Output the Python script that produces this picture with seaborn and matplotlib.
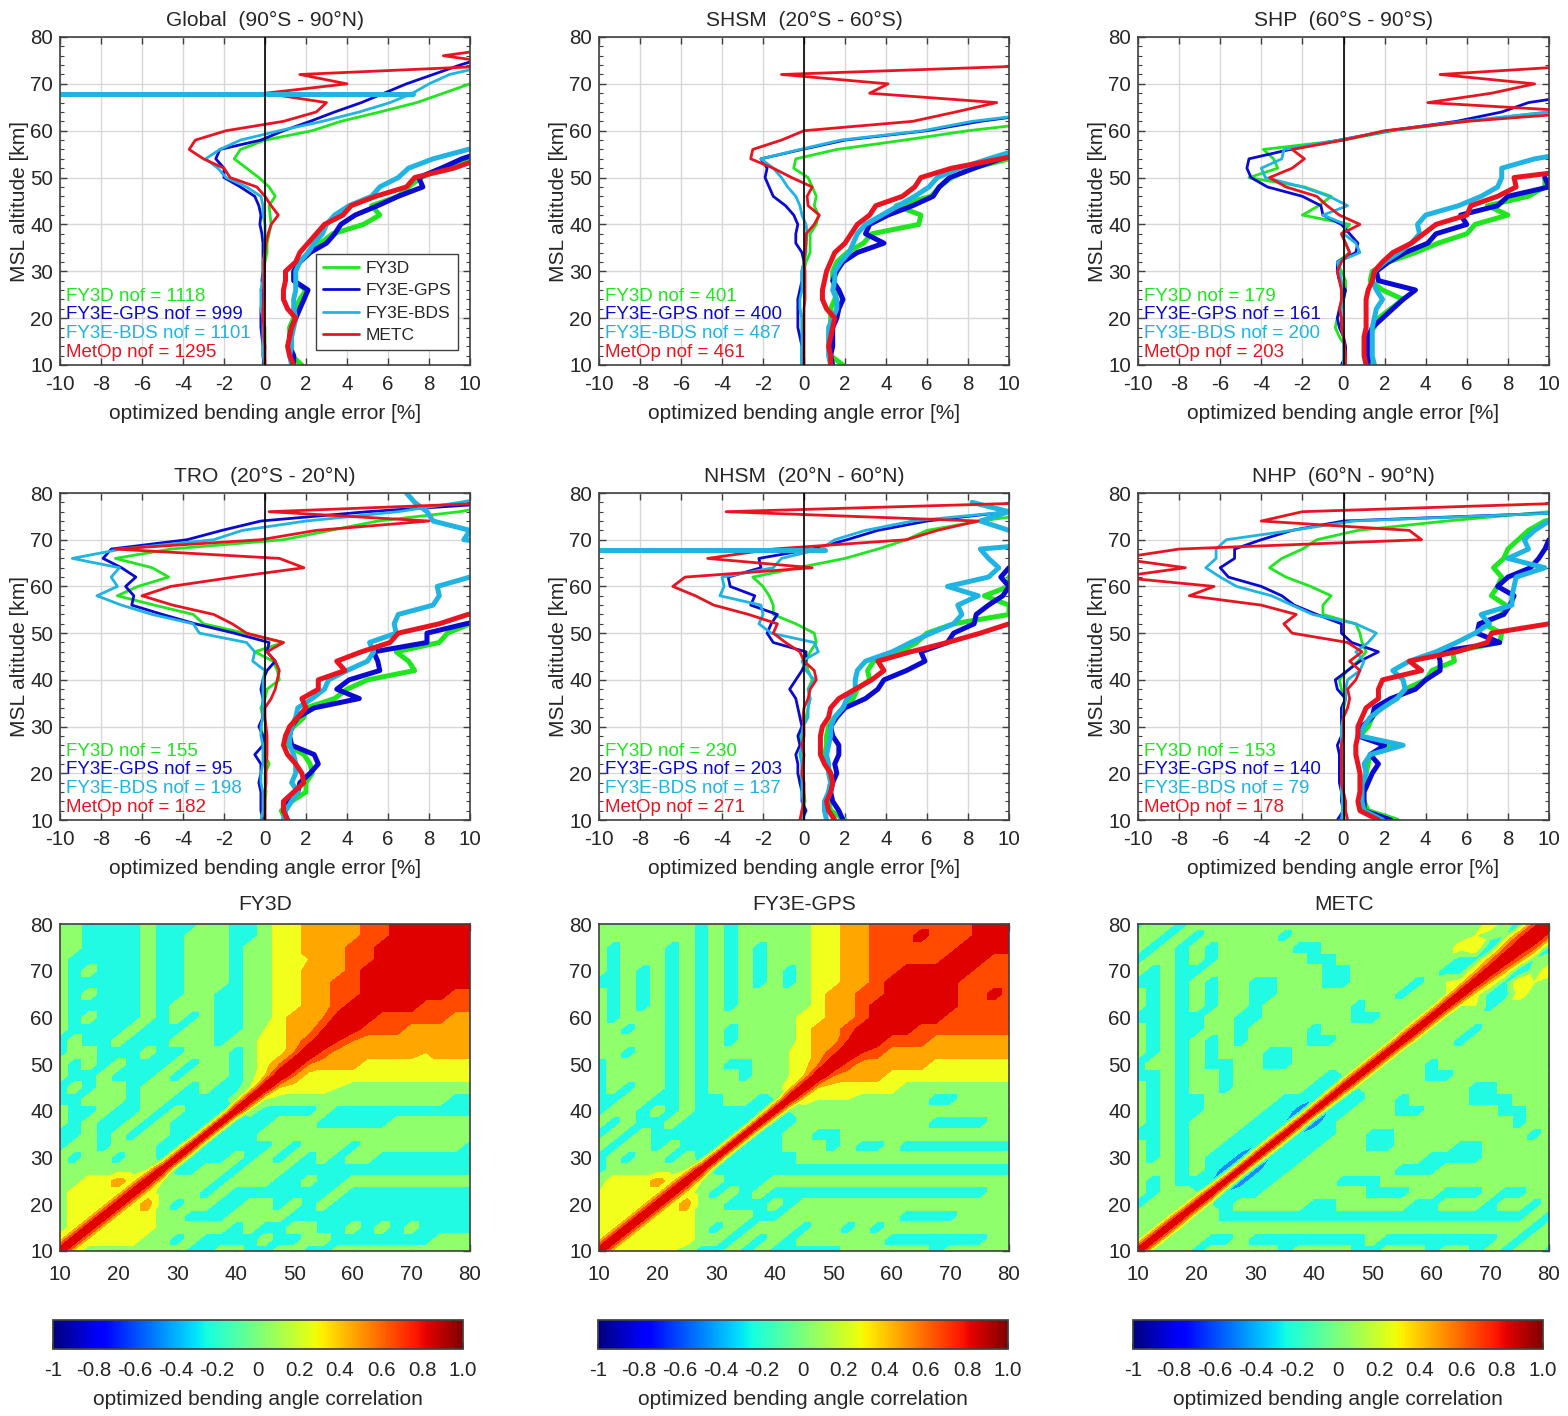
import matplotlib

matplotlib.use("Agg")

import matplotlib.pyplot as plt
import matplotlib.tri as mtri
import numpy as np
import seaborn as sns
from matplotlib.cm import ScalarMappable
from matplotlib.colors import Normalize
from matplotlib.ticker import MultipleLocator

# altitude grid of the profiles, 2 km steps. Lists stop where a profile stops.
ALT = np.arange(10, 81, 2)
CORR_ALT = np.arange(10, 80.1, 2.5)

MISSIONS = ["FY3D", "FY3E-GPS", "FY3E-BDS", "METC"]
COLORS = ["#1fe61f", "#0a0ad2", "#1fb4e2", "#ea1420"]
NOF_NAMES = ["FY3D", "FY3E-GPS", "FY3E-BDS", "MetOp"]
TITLES = ["Global  (90°S - 90°N)", "SHSM  (20°S - 60°S)", "SHP  (60°S - 90°S)",
          "TRO  (20°S - 20°N)", "NHSM  (20°N - 60°N)", "NHP  (60°N - 90°N)"]
NOF = [[1118, 999, 1101, 1295], [401, 400, 487, 461], [179, 161, 200, 203],
       [155, 95, 198, 182], [230, 203, 137, 271], [153, 140, 79, 178]]

# thin lines: mean error, thick lines: standard deviation
GLOBAL_FY3D = [-.1,-.05,0,0,0,  -.1,-.1,-.1,-.2,-.1,  -.05,0,.1,.1,.2,  .3,.25,.2,.5,.2,  -.3,-.9,-1.5,-1.2,0,  2.3,3.7,5.6,7.4,8.7,  10,12]
GLOBAL_GPS = [-.05,-.1,-.1,-.15,-.2,  -.2,-.2,-.1,-.1,-.15,  -.1,-.1,-.1,-.1,-.15,  -.25,-.2,-.3,-.5,-1.2,  -2,-2,-2.4,-2.2,-.2,  .9,2.2,3.4,4.7,5.8,  6.9,8.2,9.5,11]
GLOBAL_BDS = [0,-.1,-.1,-.1,-.1,  -.1,-.2,-.2,-.2,-.1,  -.1,-.1,0,0,0,  0,-.1,-.1,-.2,-.9,  -1.9,-2.3,-2.9,-2.2,-1.2,  .7,2.8,4.6,6.1,7.2,  8,9,11]
GLOBAL_METC = [0,0,0,-.05,-.05,  -.1,-.1,-.05,-.05,-.05,  -.05,-.05,0,.05,.15,  .3,.65,.3,0,-.4,  -1.7,-2,-3,-3.7,-3.4,  -1.9,.9,2.5,3,0,  4,1.7,12,8.7,12]
GLOBAL_FY3D_STD = [1.8,1.3,1.2,1.2,1.2,  1.4,1.5,1.7,2.0,1.4,  1.4,1.7,2.2,2.7,3.3,  4.8,5.6,5.2,6.5,7.0,  7.6,8.6,10,12]
GLOBAL_GPS_STD = [1.4,1.4,1.2,1.2,1.3,  1.5,1.7,1.9,2.1,1.4,  1.4,1.7,2.2,3.0,3.4,  3.7,4.4,5.5,6.5,7.7,  7.5,8.6,9.6,11]
GLOBAL_BDS_STD = [1.3,1.2,1.3,1.3,1.4,  1.5,1.4,1.4,1.5,1.5,  1.5,1.7,2.1,2.4,2.8,  3.0,3.4,4.1,5.2,5.6,  6.5,7.0,8.2,9.9,12]
GLOBAL_METC_STD = [1.4,1.2,1.1,1.2,1.3,  1.5,1.1,.9,.9,1.0,  1.0,1.5,1.7,2.1,2.5,  2.9,3.8,4.2,5.4,6.9,  7.3,9.2,10.5]

SHSM_FY3D = [-.1,-.1,-.1,-.1,-.1,  -.1,-.2,-.3,-.1,-.05,  0,.1,.3,.3,.3,  .6,.7,.5,.6,.4,  .2,-.5,-.4,1.6,4.9,  8,12]
SHSM_GPS = [-.1,-.1,-.1,-.2,-.3,  -.3,-.3,-.3,-.2,-.1,  -.1,0,-.1,-.4,-.4,  -.3,-.5,-.9,-1.5,-1.7,  -1.9,-1.8,-2.1,-.1,2,  6,8.6,12]
SHSM_BDS = [-.1,-.1,-.1,-.1,-.1,  -.1,-.2,-.2,-.1,-.1,  -.1,0,.1,.1,.15,  .1,-.1,-.2,-.4,-.8,  -1.1,-1.5,-2.1,-.2,1.8,  5.8,8.2,12]
SHSM_METC = [0,0,0,0,0,  0,0,.05,.05,.05,  .05,0,.05,.1,.1,  .5,.75,.2,.15,.4,  -.6,-1.5,-2.6,-2.5,-1.1,  0,5.3,7.4,9.4,3.2,  4.1,-1.1,12]
SHSM_FY3D_STD = [1.9,1.3,1.3,1.2,1.3,  1.3,1.3,1.5,1.6,1.4,  1.4,1.6,2.1,2.9,3.3,  5.6,5.7,4.5,6.2,6.6,  7.2,8.2,10,12]
SHSM_GPS_STD = [1.4,1.3,1.4,1.4,1.4,  1.6,1.7,1.9,1.7,1.4,  1.6,1.9,2.6,3.9,3.0,  3.2,4.1,5.3,6.3,6.6,  7.1,8.3,9.6,11]
SHSM_BDS_STD = [1.3,1.2,1.2,1.2,1.2,  1.4,1.6,1.6,1.4,1.5,  1.5,1.8,2.2,2.4,2.6,  3.0,3.8,4.6,5.4,6.1,  6.5,7.6,9.0,10.5]
SHSM_METC_STD = [1.3,1.3,1.2,1.3,1.4,  1.5,1.1,.9,.9,1.0,  1.1,1.3,1.5,2.0,2.3,  2.6,3.2,3.5,4.8,5.4,  5.7,7.2,9.6,12]

SHP_FY3D = [0,.1,.1,-.2,-.4,  -.3,-.1,0,.1,.1,  -.1,-.3,.3,.1,-.1,  .3,-2,-1.2,-.6,-1.9,  -4.6,-3.2,-3.4,-3.9,0,  2.4,6,10,12]
SHP_GPS = [-.1,.1,.1,0,-.2,  -.3,-.2,0,.1,-.2,  -.3,-.3,.6,.7,.3,  -.1,-1,-1.1,-2,-3.7,  -4.5,-4.7,-4.6,-2.6,-.2,  2.2,5.5,7.7,9,12]
SHP_BDS = [0,0,0,0,-.1,  -.1,-.1,0,0,-.1,  -.2,-.3,.8,.6,0,  .1,-1,.2,-.7,-2,  -3.8,-4,-3,-2.9,-.2,  2.2,5.8,10,12]
SHP_METC = [.1,.1,.05,0,-.1,  -.1,-.2,-.1,-.1,-.2,  -.3,-.1,.3,.1,-.1,  .8,-.2,-.8,-1.3,-2.8,  -3.6,-2.5,-1.9,-2.5,0,  2,6,12,4.1,7.2,  9.3,4.7,12]
SHP_FY3D_STD = [1.5,1.3,1.2,1.1,1.5,  1.7,2.3,2.9,1.9,1.3,  1.4,2.2,3.5,4.6,6,  6.4,8,7,9,9.8,  9.8]
SHP_GPS_STD = [1.2,1.2,1.2,1.2,1.4,  1.9,2.4,2.9,3.5,1.7,  1.6,2.2,3.0,4.1,4.5,  6,5.7,7.5,8,10,  9.8]
SHP_BDS_STD = [1.5,1.4,1.4,1.4,1.4,  1.5,1.6,1.9,1.6,1.4,  1.5,2.0,2.7,3.3,3.7,  3.6,4.0,5.6,6.7,7.5,  7.7,7.7,9.3,12]
SHP_METC_STD = [1.1,1.0,1.0,1.0,1.1,  1.1,1.1,1.1,1.2,1.4,  1.5,1.9,2.4,3.3,3.9,  4.5,6,6.2,7.5,8.4,  8.3,12]

TRO_FY3D = [-.1,0,0,.05,0,  0,.2,0,-.1,-.1,  -.2,-.1,-.2,0,.1,  .7,.6,.4,-.5,.9,  -1,-3,-3.5,-5.4,-7.2,  -6.2,-4.7,-5.5,-7.3,-4.6,  .9,3.2,5.5,9.5,12]
TRO_GPS = [-.1,-.2,-.2,-.2,-.3,  -.2,-.2,-.5,-.1,-.1,  -.3,-.1,-.1,-.1,-.2,  -.1,.1,.5,.1,.2,  -1.5,-3.4,-5,-6.5,-6.4,  -6.8,-6.3,-7,-7.9,-7.5,  -3.8,-2.1,-.2,5,12]
TRO_BDS = [-.2,-.1,-.1,-.1,-.2,  -.2,-.1,-.1,-.1,-.2,  -.2,-.1,-.1,-.1,-.1,  -.1,0,-.6,-.5,-.9,  -3.2,-3.5,-5.5,-7,-8.2,  -7.2,-7.5,-7.1,-9.4,-7,  -2.5,-1.1,2,6.5,9.5,  12]
TRO_METC = [0,0,0,0,.05,  .05,.05,.1,.1,.1,  .05,0,0,.3,.5,  .6,.7,.5,.1,.9,  -.9,-1.6,-2.5,-4.5,-6,  -4.6,-1.5,1.9,.7,-7.3,  -.2,2.5,8,.2,12]
TRO_FY3D_STD = [1.0,.8,1.3,2.0,2.0,  2.3,2.2,1.9,1.1,1.0,  1.4,1.9,2.0,3.4,4,  5,7.3,7.0,6.4,8.5,  8.9,10,12]
TRO_GPS_STD = [1.1,.9,1.1,1.6,1.7,  2.2,2.6,2.4,1.3,1.2,  1.3,1.6,2.4,4.6,3.5,  4.1,5.6,5.5,5.3,7.9,  7.9,9.8,12]
TRO_BDS_STD = [.9,1.0,1.3,1.6,1.3,  1.5,1.5,1.4,1.2,1.2,  1.3,1.5,1.6,2.3,2.9,  3.1,4,5,5.3,5.1,  6.4,6.3,6.5,8.2,8.5,  8.4,10,14,14,14,  9.7,10,8.2,7.9,7.3,  6.9]
TRO_METC_STD = [1.1,.9,.9,1.4,1.9,  1.8,1.5,1.1,.9,1.0,  1.2,1.6,2.0,1.8,2.6,  2.6,3.9,3.5,4.7,6.1,  6.5,8.5,9.9,12]

NHSM_FY3D = [-.1,-.05,.05,0,-.2,  -.1,-.1,-.1,-.1,-.2,  -.1,.1,.2,.3,.2,  .4,.2,.1,.3,.6,  .5,-.4,-1.5,-1.5,-1.7,  -2,-2.5,-.3,2,3.6,  5,6,8.6,12]
NHSM_GPS = [-.1,.1,-.1,-.1,-.2,  -.3,-.3,-.4,-.2,-.3,  -.1,-.2,-.3,-.4,-.7,  -.4,-.1,.1,.1,-1.5,  -1.8,-1.6,-1.3,-2.6,-2.4,  -3.6,-3.7,-2.1,-2.2,.4,  2.1,3.6,6,10,12]
NHSM_BDS = [-.1,-.1,-.05,-.1,-.1,  -.1,-.1,-.2,-.1,-.1,  -.05,.2,.2,.3,.2,  .5,.1,-.1,.7,.5,  -1.6,-2.2,-2,-2.1,-4.1,  -3.9,-4,-1.5,-1.1,.8,  1.5,3,5.3,10,12]
NHSM_METC = [-.2,-.1,0,0,0,  -.1,-.05,0,-.1,0,  0,-.05,0,.2,.3,  .6,.5,0,-.2,-.9,  -1.5,-1.3,-2.7,-4.4,-5.3,  -6.4,-5.8,.4,-4.7,-1.5,  5,6.5,8.5,-3.8,12]
NHSM_FY3D_STD = [2,1.3,1.2,1.2,1.3,  1.3,1.1,1.0,1.1,1.1,  1.2,1.5,1.9,2.4,2.6,  3.2,3.1,3.4,4.7,5.5,  6,7.3,10,10,8.8,  10,10,12]
NHSM_GPS_STD = [1.9,1.7,1.4,1.3,1.4,  1.6,1.5,1.7,1.7,1.4,  1.3,1.6,2.0,3,3.6,  3.9,5,5.9,5.7,7,  7.3,8.3,8.4,9,9.7,  10,9.6,10,14]
NHSM_BDS_STD = [1.1,1.0,1.0,1.2,1.3,  1.2,1.2,1.1,1.2,1.3,  1.3,1.5,1.9,2.1,2.5,  2.5,2.6,3.0,4.3,5.2,  6.2,7.3,7.7,7.5,8.5,  7,9,9.5,9,8.6,  14,10,8.6,10,8.2]
NHSM_METC_STD = [1.5,1.2,1.1,1.3,1.4,  1.3,1.0,.8,.8,.8,  .9,1.2,1.3,1.7,2.5,  3.3,3.9,3.6,5.2,7,  8.6,10,12]

NHP_FY3D = [-.1,-.05,0,-.1,-.1,  -.2,-.1,-.2,-.1,-.1,  -.1,0,0,.1,-.1,  -.2,.2,.7,1.1,.9,  .8,.6,-1,-1,-.6,  -1.6,-2.8,-3.6,-3,-2,  -1.3,.7,5,10,12]
NHP_GPS = [-.3,0,-.1,-.1,-.2,  -.2,-.2,-.2,-.3,-.1,  -.1,-.1,-.1,.1,-.3,  -.4,.2,.8,1.7,.4,  -.1,-.1,-1.3,-2.4,-3,  -4,-5.6,-6,-5.3,-5.3,  -4,-2.5,0,12]
NHP_BDS = [-.1,-.05,-.05,-.1,-.1,  -.1,-.1,-.1,-.1,-.1,  -.1,0,0,.1,.1,  .2,.8,1,.6,1.2,  1.6,.6,-1.5,-2.5,-3.5,  -5.2,-6,-6.7,-6.2,-6.2,  -5.7,-2.5,.5,12]
NHP_METC = [.2,.1,.1,0,-.1,  -.1,-.1,-.1,-.1,0,  0,0,.2,.3,.2,  .6,.8,.3,.9,.2,  -2.5,-2.9,-2.3,-4,-7.5,  -6.3,-11,-7.7,-11,-8,  3.8,3.2,-4,-2,12]
NHP_FY3D_STD = [2.6,1.2,1,.9,1,  1.1,1.2,1.3,2.4,.8,  1.2,1.4,1.8,2.6,3,  4,4.3,5.4,5.3,7.6,  7.7,6.8,7.7,7.9,7.2,  7.5,7.7,7.3,7.8,8,  8.5,9,9.8,12]
NHP_GPS_STD = [2.3,1.0,1,1,1.2,  1.4,1.7,1.3,2.0,.7,  .9,1.4,1.5,2.3,3.5,  4,4.7,4.7,4.6,7.6,  6.5,6.6,7.8,8.1,8.3,  7.5,8,9.1,9.5,9.8,  10,12]
NHP_BDS_STD = [1.9,1.0,.9,.9,.9,  1.1,1,1.3,2.9,.8,  1,1.3,1.9,2.6,3.0,  2.9,2.4,3.2,4.5,5.5,  6.4,7.1,6.7,8.2,8.2,  8.3,8.4,9.8,8,9,  8.8,9.3,10,12]
NHP_METC_STD = [1.7,.8,.7,.8,.8,  .8,.7,.6,.6,.7,  .7,.9,1.1,1.7,1.7,  1.9,3.8,3.2,5.5,7,  7.2,10,12]

BIAS = [[GLOBAL_FY3D, GLOBAL_GPS, GLOBAL_BDS, GLOBAL_METC], [SHSM_FY3D, SHSM_GPS, SHSM_BDS, SHSM_METC],
        [SHP_FY3D, SHP_GPS, SHP_BDS, SHP_METC], [TRO_FY3D, TRO_GPS, TRO_BDS, TRO_METC],
        [NHSM_FY3D, NHSM_GPS, NHSM_BDS, NHSM_METC], [NHP_FY3D, NHP_GPS, NHP_BDS, NHP_METC]]
STD = [[GLOBAL_FY3D_STD, GLOBAL_GPS_STD, GLOBAL_BDS_STD, GLOBAL_METC_STD],
       [SHSM_FY3D_STD, SHSM_GPS_STD, SHSM_BDS_STD, SHSM_METC_STD],
       [SHP_FY3D_STD, SHP_GPS_STD, SHP_BDS_STD, SHP_METC_STD],
       [TRO_FY3D_STD, TRO_GPS_STD, TRO_BDS_STD, TRO_METC_STD],
       [NHSM_FY3D_STD, NHSM_GPS_STD, NHSM_BDS_STD, NHSM_METC_STD],
       [NHP_FY3D_STD, NHP_GPS_STD, NHP_BDS_STD, NHP_METC_STD]]

# the BDS glitch at 67.8 km that runs off the left edge, panels 0 and 4
GLITCH_ALT = [67.8, 67.8]
GLITCH_X = {0: [-10, 7.2], 4: [-10, 1.0]}

# lower triangle of each correlation matrix in tenths, one row per altitude
FY3D_CORR = [
    [10],
    [2,10],
    [0,2,10],
    [0,2,2,10],
    [0,2,2,2,10],
    [0,2,2,2,2,10],
    [0,0,2,2,4,2,10],
    [0,0,0,0,0,0,1,10],
    [0,-2,0,0,-2,0,0,-2,10],
    [-2,0,0,-2,0,0,0,-2,-2,10],
    [-2,-2,0,-2,0,-2,0,0,-2,-3,10],
    [0,-2,0,-2,-2,0,-2,0,-2,-2,-3,10],
    [0,-2,-2,0,-2,-2,0,-2,0,-2,-2,-3,10],
    [-2,-2,0,0,0,-2,0,0,-2,-2,-2,-2,0,10],
    [-2,0,-2,0,0,-2,0,0,0,-2,0,-2,-2,1,10],
    [0,-2,-2,0,-2,-2,-2,0,-2,0,0,0,-2,0,3,10],
    [0,-2,0,-2,0,-2,-2,-2,0,-2,0,0,-2,0,2,5,10],
    [-2,0,0,-2,-2,-2,0,-2,-2,0,0,0,-2,0,2,2,5,10],
    [-2,0,-2,-2,0,-2,-2,-2,0,0,0,-2,0,0,2,2,4,6,10],
    [0,-2,-2,-2,-2,0,-2,-2,-2,0,0,-2,-2,0,1,2,4,4,7,10],
    [0,-2,0,-2,-2,-2,0,-2,0,-2,0,-2,-2,0,0,2,4,4,5,8,10],
    [0,-2,-2,-2,-2,-2,0,-2,0,0,0,-2,-2,0,0,2,2,4,4,6,8,10],
    [0,-2,0,-2,-2,-2,0,-2,-2,0,0,-2,-2,0,0,2,2,4,4,6,6,8,10],
    [0,-2,-2,-2,-2,-2,0,-2,-2,0,0,0,-2,0,0,2,2,4,4,6,6,8,8,10],
    [0,-2,0,-2,-2,-2,0,-2,-2,0,0,0,-2,0,0,2,2,4,4,4,6,8,8,8,10],
    [0,-2,-2,-2,-2,-2,0,-2,-2,0,0,0,-2,0,0,2,2,3,4,4,6,6,8,8,9,10],
    [0,0,-2,-2,-2,-2,0,-2,-2,0,0,0,-2,0,0,2,2,4,4,4,6,6,8,8,8,8,10],
    [0,0,-2,-2,-2,-2,0,-2,-2,0,0,0,-2,-2,0,2,2,4,4,4,4,6,6,8,8,8,8,10],
    [0,0,-2,-2,-2,-2,0,-2,-2,-2,0,0,-2,-2,0,2,2,4,4,4,4,6,6,8,8,8,8,8,10],
]
GPS_CORR = [
    [10],
    [2,10],
    [2,2,10],
    [1,2,2,10],
    [2,2,2,2,10],
    [1,2,2,2,2,10],
    [0,2,2,2,4,2,10],
    [-2,0,0,0,0,0,1,10],
    [-2,0,-2,0,0,-2,0,-2,10],
    [0,-2,0,0,-2,0,-2,-2,-3,10],
    [-2,0,-2,0,-2,-2,-2,-2,-2,-3,10],
    [0,-2,0,-2,-2,0,-2,-2,-2,-2,-3,10],
    [-2,0,0,-2,0,-2,0,-2,-2,-2,-2,-2,10],
    [-2,-2,0,0,-2,-2,0,-2,-2,0,0,-2,-1,10],
    [-2,0,-2,0,0,-2,0,-2,0,0,0,0,0,2,10],
    [-2,0,0,0,0,-2,0,-2,0,0,-2,0,0,1,3,10],
    [-2,0,0,0,0,-2,0,-2,0,-2,-2,0,0,1,2,5,10],
    [0,0,-2,0,0,-2,0,-2,0,0,0,0,0,1,2,4,6,10],
    [0,0,0,0,0,-2,0,-2,0,-2,0,0,0,0,2,4,4,7,10],
    [0,0,-2,0,0,-2,0,-2,0,-2,0,0,0,0,2,4,4,6,8,10],
    [0,-2,0,0,0,-2,0,-2,0,0,0,0,0,0,2,2,4,4,6,8,10],
    [0,-2,0,-2,0,-2,0,-2,0,-2,0,0,0,0,0,2,4,4,6,8,8,10],
    [0,-2,0,-2,0,-2,0,-2,0,-2,0,0,0,0,0,2,4,4,6,6,8,8,10],
    [-2,-2,0,-2,0,-2,0,-2,0,-2,0,-2,0,-2,0,2,2,4,4,6,8,8,8,10],
    [0,-2,0,-2,0,-2,0,-2,0,-2,0,-2,0,-2,0,2,2,4,4,6,6,8,8,8,10],
    [0,-2,0,0,0,-2,0,-2,0,-2,0,-2,0,0,0,2,2,4,4,6,6,6,6,6,8,10],
    [0,-2,0,0,0,-2,0,-2,0,-2,0,-2,0,0,0,2,2,4,4,6,6,6,6,6,6,8,10],
    [0,0,0,0,0,0,0,-2,0,-2,0,0,0,0,0,2,2,4,4,6,6,6,8,6,6,6,8,10],
    [0,0,0,0,0,0,0,-2,0,-2,0,0,0,0,0,2,2,4,4,6,6,6,6,6,6,6,8,8,10],
]
METC_CORR = [
    [10],
    [0,10],
    [0,0,10],
    [0,0,0,10],
    [-2,0,0,-1,10],
    [0,-2,0,0,-1,10],
    [0,-2,0,-2,-2,-3,10],
    [0,0,0,-2,0,-2,-4,10],
    [0,-2,0,-2,0,-2,-2,-4,10],
    [0,-2,0,-2,0,0,-2,-2,-3,10],
    [-2,-2,0,-2,0,0,0,-2,-2,-3,10],
    [0,-2,0,-2,0,0,0,0,-2,-2,-3,10],
    [0,-2,0,-2,-2,0,0,0,0,-2,-2,-4,10],
    [0,-2,0,-2,-2,0,0,0,0,0,-2,-2,-3,10],
    [0,-2,0,-2,0,0,-2,0,0,0,0,0,-2,-2,10],
    [-2,-2,0,-2,0,0,-2,0,0,0,0,0,0,-2,-1,10],
    [-2,0,0,-2,0,-2,-2,0,0,-2,-2,0,0,0,0,-1,10],
    [0,-2,0,-2,0,-2,0,0,0,-2,-2,0,0,0,0,0,-1,10],
    [0,-2,0,-2,0,-2,0,-2,0,0,0,0,-2,-2,0,0,0,-1,10],
    [0,-2,0,-2,-2,0,0,-2,0,0,0,0,-2,0,0,0,0,0,0,10],
    [-2,-2,0,-2,-2,0,0,-2,-2,0,0,0,0,0,0,-2,-2,0,0,0,10],
    [0,-2,0,-2,0,-2,0,0,-2,0,0,0,0,0,0,-2,0,0,0,0,0,10],
    [0,-2,0,-2,0,-2,0,0,-2,-2,0,0,0,0,0,0,0,0,-2,0,0,1,10],
    [-2,-2,0,-2,0,-2,0,0,-2,-2,0,0,0,-2,-2,0,0,0,0,-2,0,1,2,10],
    [0,-2,0,-2,-2,0,0,0,0,0,0,0,0,-2,-2,0,0,0,0,0,0,-2,-2,3,10],
    [-2,0,0,-2,0,-2,0,0,0,0,0,0,-2,-2,0,0,0,0,0,0,0,0,-2,-2,4,10],
    [0,-2,0,-2,0,-2,0,0,0,0,0,-2,-2,0,0,0,0,0,0,0,0,0,2,3,-3,5,10],
    [0,0,-2,0,-2,0,0,0,0,0,-2,0,0,0,0,0,0,0,0,0,0,0,0,1,0,-1,6,10],
    [-2,0,0,-2,0,0,0,0,0,0,0,0,0,0,0,0,0,0,0,0,0,0,0,0,2,0,-2,6,10],
]
CORR_TITLES = ["FY3D", "FY3E-GPS", "METC"]
CORR_ROWS = [FY3D_CORR, GPS_CORR, METC_CORR]
BAND_LEVELS = [-1.1, -0.3, -0.1, 0.1, 0.3, 0.5, 0.7, 1.1]
BAND_COLORS = ["#1a8cff", "#22fbe4", "#90ff6c", "#f2ff1c", "#ffa600", "#ff4a00", "#e00000"]
CBAR_TICKS = [-1, -0.8, -0.6, -0.4, -0.2, 0, 0.2, 0.4, 0.6, 0.8, 1.0]
CBAR_LABELS = ["-1", "-0.8", "-0.6", "-0.4", "-0.2", "0", "0.2", "0.4", "0.6", "0.8", "1.0"]

W, H = 1568, 1416
TEXT = "#262626"
EDGE = "#404040"

sns.set_theme(style="ticks")
plt.rcParams["font.family"] = ["Liberation Sans", "DejaVu Sans"]
plt.rcParams["axes.unicode_minus"] = False
plt.rcParams["axes.edgecolor"] = EDGE
plt.rcParams["text.color"] = TEXT
plt.rcParams["axes.labelcolor"] = TEXT
plt.rcParams["xtick.color"] = EDGE
plt.rcParams["ytick.color"] = EDGE
plt.rcParams["xtick.labelcolor"] = TEXT
plt.rcParams["ytick.labelcolor"] = TEXT


def px_axes(fig, left, top, right, bottom):
    return fig.add_axes([left / W, 1 - bottom / H, (right - left) / W, (bottom - top) / H])


def style_axes(axis):
    axis.tick_params(which="both", direction="in", top=True, right=True, labelsize=14.8)
    axis.tick_params(axis="x", pad=10)
    axis.tick_params(axis="y", pad=5)
    axis.tick_params(which="major", length=5, width=1)
    axis.set_xlim(10, 80)
    axis.set_ylim(10, 80)
    axis.set_xticks(np.arange(10, 81, 10))
    axis.set_yticks(np.arange(10, 81, 10))
    for spine in axis.spines.values():
        spine.set_linewidth(1.2)


def draw_profile(axis, values, alt, color, width, label=None):
    sns.lineplot(x=values, y=alt[:len(values)], sort=False, estimator=None, errorbar=None, orient="y",
                 color=color, linewidth=width, label=label, legend=False, ax=axis)


def correlation_matrix(rows):
    size = len(rows)
    matrix = np.zeros((size, size))
    for i, row in enumerate(rows):
        matrix[i, :i + 1] = row
        matrix[:i + 1, i] = row
    return matrix / 10


def diagonal_triangles(size):
    # split every cell along the main diagonal so the ridge stays unbroken
    triangles = []
    for i in range(size - 1):
        for j in range(size - 1):
            a = i * size + j
            triangles.append([a, a + 1, a + size + 1])
            triangles.append([a, a + size + 1, a + size])
    return triangles


fig = plt.figure(figsize=(W / 100, H / 100), dpi=100, facecolor="white")

lefts = [(60, 470), (599, 1009), (1138, 1549)]
tops = [(37, 365), (493, 820)]

for p in range(6):
    col = p % 3
    row = p // 3
    ax = px_axes(fig, lefts[col][0], tops[row][0], lefts[col][1], tops[row][1])
    ax.grid(True, which="major", color="#d8d8d8", linewidth=1)
    for m in range(4):
        draw_profile(ax, STD[p][m], ALT, COLORS[m], 3.6)
        draw_profile(ax, BIAS[p][m], ALT, COLORS[m], 2.0, label=MISSIONS[m])
    if p in GLITCH_X:
        draw_profile(ax, GLITCH_X[p], np.array(GLITCH_ALT), COLORS[2], 3.6)
    ax.axvline(0, color="black", linewidth=1.2, zorder=5)
    ax.set_xlim(-10, 10)
    ax.set_ylim(10, 80)
    ax.set_xticks(np.arange(-10, 11, 2))
    ax.set_yticks(np.arange(10, 81, 10))
    ax.yaxis.set_minor_locator(MultipleLocator(2))
    ax.tick_params(which="both", direction="in", top=True, right=True, labelsize=14.8)
    ax.tick_params(axis="x", pad=7.5)
    ax.tick_params(axis="y", pad=5)
    ax.tick_params(which="major", length=5, width=1)
    ax.tick_params(which="minor", length=3, width=0.8)
    for spine in ax.spines.values():
        spine.set_linewidth(1.2)
    ax.set_title(TITLES[p], fontsize=15.1, pad=8, color=TEXT)
    ax.set_xlabel("optimized bending angle error [%]", fontsize=15, labelpad=7)
    ax.set_ylabel("MSL altitude [km]", fontsize=15, labelpad=0.5)
    for m, alt_pos in enumerate([24.7, 20.8, 16.8, 12.7]):
        ax.text(-9.7, alt_pos, f"{NOF_NAMES[m]} nof = {NOF[p][m]}", color=COLORS[m], fontsize=13.5, va="center", ha="left")
    if p == 0:
        handles, labels = ax.get_legend_handles_labels()
        ax.legend(handles, labels, loc="lower left", bbox_to_anchor=(256 / 410, 15 / 328), borderaxespad=0,
                  fontsize=12.5, fancybox=False, framealpha=1, edgecolor=EDGE, labelspacing=0.42,
                  handlelength=2.1, handletextpad=0.35, borderpad=0.4)

tri = mtri.Triangulation(*[a.ravel() for a in np.meshgrid(CORR_ALT, CORR_ALT)],
                         triangles=diagonal_triangles(len(CORR_ALT)))
cbar_spans = [(53, 463), (598, 1008), (1133, 1543)]

for col in range(3):
    ax = px_axes(fig, lefts[col][0], 924, lefts[col][1], 1251)
    ax.tricontourf(tri, correlation_matrix(CORR_ROWS[col]).ravel(), levels=BAND_LEVELS, colors=BAND_COLORS)
    style_axes(ax)
    ax.set_title(CORR_TITLES[col], fontsize=15.1, pad=10, color=TEXT)

    cax = px_axes(fig, cbar_spans[col][0], 1320, cbar_spans[col][1], 1349)
    bar = fig.colorbar(ScalarMappable(Normalize(-1, 1), "jet"), cax=cax, orientation="horizontal")
    bar.set_ticks(CBAR_TICKS, labels=CBAR_LABELS)
    bar.ax.tick_params(direction="in", length=4, labelsize=14.8, pad=9, labelcolor=TEXT)
    bar.set_label("optimized bending angle correlation", fontsize=15, labelpad=7, color=TEXT)

fig.savefig("out.png", dpi=100)
plt.close(fig)
